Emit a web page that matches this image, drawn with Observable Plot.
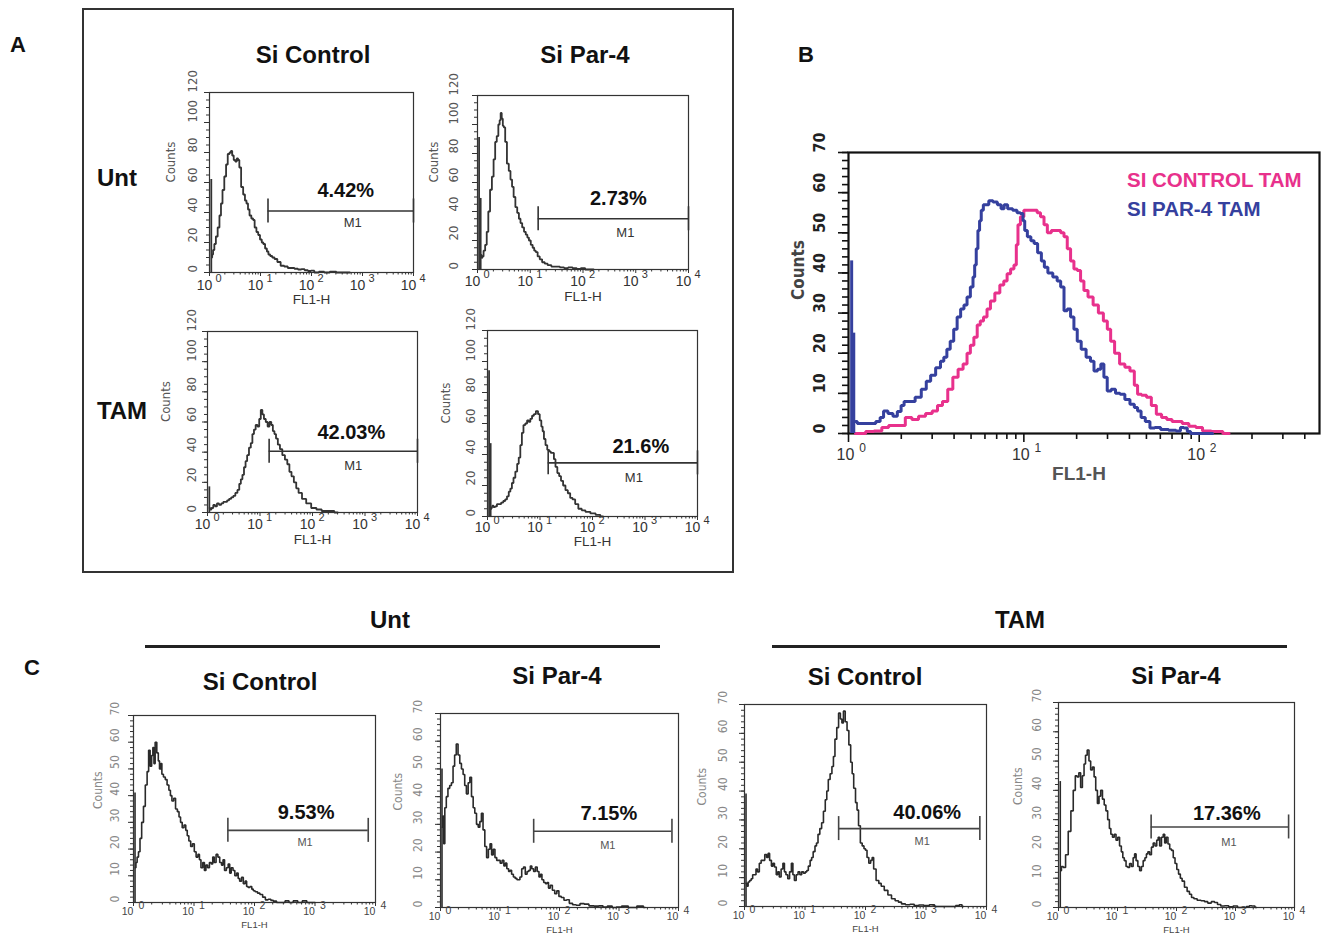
<!DOCTYPE html>
<html><head><meta charset="utf-8">
<script src="https://cdn.jsdelivr.net/npm/d3@7"></script>
<script src="https://cdn.jsdelivr.net/npm/@observablehq/plot@0.6"></script>
<style>
html,body{margin:0;padding:0;background:#fff;overflow:hidden;}
body{width:1321px;height:946px;position:relative;font-family:"Liberation Sans",Arial,sans-serif;}
.t{position:absolute;transform:translate(-50%,-50%);white-space:nowrap;font-weight:bold;color:#111;line-height:1;}
.l{position:absolute;transform:translate(0,-50%);white-space:nowrap;font-weight:bold;line-height:1;}
.p{position:absolute;}
.p svg{max-width:none;overflow:visible;}
</style></head><body>
<script>
// ---------- tick labels ----------
const decades = [1, 10, 100, 1000, 10000];
const exponents = ["0", "1", "2", "3", "4"];
const decadesB = [1, 10, 100];
const exponentsB = ["0", "1", "2"];
const countTicksA = [0, 20, 40, 60, 80, 100, 120];
const countTicksBC = [0, 10, 20, 30, 40, 50, 60, 70];

// ---------- Panel A: [log10(FL1-H), counts] ----------
const aUntCtrl = [[0.045,10],[0.06,12],[0.08,15],[0.11,19],[0.14,24],[0.18,30],[0.21,38],[0.24,46],[0.27,55],[0.31,64],[0.34,72],[0.375,79],[0.41,80],[0.43,81],[0.46,78],[0.49,75],[0.52,74],[0.55,76],[0.57,75],[0.6,70],[0.64,57],[0.68,52],[0.71,48],[0.74,46],[0.77,42],[0.8,38],[0.84,36],[0.87,35],[0.9,30],[0.94,27],[0.97,25],[1.01,22],[1.04,20],[1.07,19],[1.11,16],[1.14,14],[1.17,12],[1.21,11],[1.25,10],[1.3,9],[1.36,7],[1.43,4.5],[1.5,4],[1.57,3],[1.63,3],[1.7,2.5],[1.77,2],[1.83,2.2],[1.9,1.5],[1.96,1],[2.02,1.2],[2.09,0],[2.2,0.5],[2.3,0],[2.42,0.6],[2.55,0],[2.75,0]];
const aUntPar4 = [[0.07,10],[0.085,8],[0.1,9],[0.13,13],[0.16,17],[0.19,26],[0.22,40],[0.256,55],[0.29,64],[0.32,76],[0.35,88],[0.38,92],[0.41,100],[0.43,103],[0.448,108],[0.47,104],[0.49,99],[0.51,98],[0.54,88],[0.576,73],[0.61,68],[0.64,62],[0.67,57],[0.7,50],[0.736,43],[0.77,39],[0.8,35],[0.83,32],[0.864,29],[0.9,26],[0.93,24],[0.96,22],[0.99,20],[1.03,17],[1.06,15],[1.09,13],[1.12,12],[1.16,9],[1.2,7],[1.25,5],[1.3,4],[1.36,3],[1.44,2],[1.52,2],[1.6,1.5],[1.68,1],[1.76,1.5],[1.84,1],[1.92,0.5],[2.0,1],[2.08,0],[2.2,0]];
const aTamCtrl = [[0.04,3],[0.06,2],[0.09,3],[0.13,5],[0.16,4],[0.2,6],[0.24,5],[0.28,6],[0.32,7],[0.355,7],[0.39,8],[0.43,9],[0.47,10],[0.51,11],[0.55,13],[0.59,15],[0.62,19],[0.65,22],[0.68,25],[0.71,30],[0.74,34],[0.77,38],[0.81,43],[0.84,46],[0.87,52],[0.9,55],[0.935,58],[0.97,57],[1.0,62],[1.03,68],[1.06,65],[1.09,62],[1.13,60],[1.16,57],[1.2,60],[1.23,58],[1.26,54],[1.29,52],[1.32,49],[1.36,45],[1.4,42],[1.45,38],[1.5,35],[1.54,32],[1.58,27],[1.62,24],[1.67,20],[1.71,16],[1.76,13],[1.84,9],[1.92,6],[2.03,3],[2.12,2],[2.23,1],[2.35,1],[2.48,0]];
const aTamPar4 = [[0.07,5],[0.085,6],[0.1,7],[0.13,6],[0.16,6.5],[0.2,8],[0.24,8],[0.28,9],[0.32,10],[0.353,11],[0.39,13],[0.42,16],[0.45,18],[0.48,21.6],[0.51,25],[0.55,29],[0.58,34],[0.61,38],[0.64,46],[0.67,54],[0.7,59],[0.738,60],[0.77,62],[0.8,61],[0.83,63],[0.867,65],[0.9,66],[0.944,68],[0.98,66],[1.01,62],[1.04,58],[1.06,55],[1.09,50],[1.12,46],[1.156,43],[1.19,42],[1.22,41],[1.25,41],[1.28,37],[1.31,32],[1.35,28],[1.38,26],[1.42,23],[1.46,20],[1.51,17],[1.55,15],[1.6,12],[1.64,11],[1.7,8],[1.76,5],[1.83,4],[1.9,3],[2.02,2],[2.1,1],[2.2,0]];
const aSpikes = [[[0.035,62]], [[0.03,91],[0.06,49]], [[0.035,17]], [[0.03,94],[0.06,47]]];
const aGates = [[1.147,4,41],[1.15,4,35],[1.174,4,40.6],[1.156,4,34.6]]; // [from, to, counts]
const aPercents = ["4.42%", "2.73%", "42.03%", "21.6%"];

// ---------- Panel B ----------
const bDecades = [0.04,0.06,0.1,0.14,0.171,0.19,0.21,0.24,0.267,0.29,0.31,0.324,0.36,0.4,0.43,0.457,0.48,0.514,0.535,0.552,0.57,0.59,0.61,0.629,0.65,0.667,0.685,0.705,0.715,0.724,0.733,0.743,0.752,0.762,0.776,0.79,0.81,0.838,0.86,0.88,0.895,0.92,0.952,0.97,0.99,1.0,1.01,1.03,1.05,1.067,1.09,1.11,1.124,1.15,1.18,1.2,1.22,1.238,1.257,1.276,1.295,1.314,1.34,1.37,1.39,1.41,1.43,1.448,1.465,1.486,1.51,1.535,1.562,1.59,1.62,1.64,1.657,1.68,1.705,1.733,1.76,1.8,1.85,1.886,1.9,1.924,1.94,1.962,2.0,2.076];
const bPar4Counts = [3,2.5,2.5,2.5,3,4,5.6,5,4.3,5.5,7,8,8,9,11,13,14.5,16.4,18,19,21,23,26,29,31,32,34,36.5,39,42,46,50.6,53,55.6,57,57,58,57.7,57,56,57,56,55.6,55,54.8,53,50.6,49,48,47.3,45,43,41.4,40,39,38,36.5,30.6,31,29,26,23,21,19,18,15.6,16,17.3,14,10.6,11,10,9.8,8.5,7.3,6.5,5.6,4,3,1.4,1.5,1,0.8,0.6,1.5,1.4,0.5,0,0,0];
const bCtrlDecades = [0.04,0.076,0.12,0.17,0.21,0.248,0.28,0.305,0.343,0.38,0.419,0.46,0.495,0.52,0.552,0.58,0.61,0.64,0.667,0.685,0.705,0.725,0.743,0.76,0.78,0.8,0.819,0.85,0.876,0.895,0.914,0.935,0.952,0.962,0.971,0.99,1.01,1.04,1.067,1.085,1.105,1.125,1.143,1.17,1.2,1.22,1.238,1.257,1.276,1.295,1.314,1.333,1.352,1.38,1.41,1.44,1.467,1.485,1.505,1.53,1.562,1.59,1.62,1.64,1.657,1.685,1.714,1.74,1.771,1.8,1.83,1.86,1.886,1.92,1.962,2.0,2.038,2.1,2.17];
const bCtrlCounts = [0,0,0.5,0.6,1.5,2,2,2,4,3.5,4.3,5,5.6,7,8,11,14,16,17.3,20,22,24,27,28,29,31,33,35,37,38,39.8,41,42,47,52,54,55.6,55.6,55.6,55,54,52,50,50.6,50.6,50,49,46,43,41,40.6,38,35.6,34,32,30,28,26,23,20,17.3,16.5,15.6,12,9.8,9.5,9,7,4.8,4,3.5,3,3,2.5,1.8,1.5,0.6,0.5,0];
const bPar4Spikes = [[0.018,43],[0.03,25]];
const bLegend = ["SI CONTROL TAM", "SI PAR-4 TAM"];

// ---------- Panel C ----------
const cUntCtrl = [[0.03,13],[0.05,15],[0.07,17],[0.095,19],[0.12,24],[0.15,30],[0.18,36],[0.21,44],[0.24,49],[0.26,57],[0.29,51],[0.31,55],[0.33,58],[0.346,52],[0.37,60],[0.4,56],[0.42,53],[0.44,50],[0.458,52],[0.48,48],[0.51,47],[0.54,46],[0.57,44],[0.6,42],[0.62,40],[0.65,38],[0.68,39],[0.71,35],[0.74,34],[0.765,32],[0.79,30],[0.82,28],[0.85,29],[0.877,27],[0.9,25],[0.93,23],[0.96,21],[0.99,22],[1.02,19],[1.05,17],[1.08,18],[1.1,16],[1.13,13],[1.16,15],[1.184,12],[1.21,14],[1.24,13],[1.27,15],[1.3,14.4],[1.32,17],[1.35,15],[1.38,18],[1.41,17],[1.44,15],[1.47,14],[1.49,16],[1.52,12],[1.55,13],[1.58,14.4],[1.6,11],[1.63,13],[1.66,12],[1.69,10],[1.72,11],[1.74,9],[1.77,8],[1.8,9.4],[1.83,7],[1.86,8],[1.88,6],[1.91,5.6],[1.94,6],[1.97,5],[1.99,4.4],[2.03,4],[2.07,3.5],[2.11,3],[2.16,2],[2.2,1],[2.25,1.2],[2.29,0.8],[2.33,0.5],[2.4,0],[2.47,0],[2.54,0.6],[2.6,0],[2.68,0.6],[2.75,0],[2.83,0.6],[2.9,0],[3.0,0]];
const cUntPar4 = [[0.03,29],[0.045,33],[0.06,23],[0.085,36],[0.11,40],[0.14,43],[0.17,44],[0.197,45],[0.225,51],[0.25,55],[0.28,59],[0.31,55],[0.338,52],[0.366,50],[0.394,48],[0.42,44],[0.45,41],[0.48,45],[0.507,47],[0.535,40],[0.563,36],[0.59,34],[0.62,30],[0.648,29],[0.675,31],[0.7,34],[0.73,28],[0.76,22],[0.79,18],[0.82,21],[0.845,23],[0.873,19],[0.9,21],[0.93,18],[0.96,17],[0.986,17],[1.02,16],[1.05,17],[1.08,15],[1.1,16],[1.13,14],[1.16,13],[1.18,13.4],[1.21,12],[1.24,11],[1.27,10.5],[1.3,10],[1.32,10],[1.35,11],[1.38,14],[1.41,14.6],[1.44,12],[1.47,13],[1.5,13.4],[1.52,15],[1.55,14],[1.58,13],[1.61,14.6],[1.64,13],[1.67,11],[1.69,12],[1.72,10],[1.75,9],[1.78,8.6],[1.8,9],[1.83,7],[1.86,8],[1.9,6.2],[1.94,5],[1.97,6],[2.01,4],[2.05,3.6],[2.1,2.6],[2.14,2.8],[2.19,1.5],[2.25,1],[2.31,0.8],[2.38,1.4],[2.45,1.2],[2.54,0.6],[2.62,0.5],[2.7,0.6],[2.76,0.2],[2.85,0.5],[2.92,0],[2.99,0.2],[3.1,0.5],[3.21,0],[3.28,0],[3.32,0.5],[3.38,0.5],[3.44,0]];
const cTamCtrl = [[0.03,8],[0.05,7],[0.07,8.5],[0.1,9],[0.12,9.6],[0.15,11],[0.18,11],[0.2,13],[0.23,12],[0.26,15],[0.29,16],[0.32,16],[0.35,18],[0.38,17],[0.4,18.4],[0.43,16],[0.46,14],[0.48,15],[0.51,13.7],[0.54,11],[0.56,12],[0.59,10.2],[0.62,13],[0.65,15],[0.67,12],[0.7,11],[0.73,9.6],[0.76,12],[0.79,15],[0.81,11],[0.84,9],[0.87,11],[0.9,12],[0.93,11],[0.96,12],[0.99,11.5],[1.02,12],[1.04,12.5],[1.07,14],[1.1,16],[1.12,17],[1.15,19],[1.18,21],[1.2,22],[1.23,25],[1.26,27],[1.29,29],[1.32,33],[1.35,37],[1.37,40],[1.4,44],[1.43,46],[1.46,48.5],[1.48,52],[1.51,58],[1.54,62],[1.57,67],[1.6,65],[1.62,63.6],[1.65,67.7],[1.68,64],[1.71,61],[1.74,56],[1.77,50],[1.79,46],[1.82,41],[1.85,36],[1.87,33.4],[1.9,28],[1.93,22],[1.96,21],[1.99,20],[2.01,19.5],[2.04,17],[2.07,15],[2.1,16],[2.12,17],[2.15,13],[2.2,9],[2.24,8],[2.28,7],[2.34,5.6],[2.4,4],[2.46,2.7],[2.52,2],[2.57,1.5],[2.62,0.9],[2.7,0.6],[2.77,0.8],[2.84,0.3],[2.92,0.5],[3.01,0.3],[3.1,0.6],[3.18,0],[3.3,0],[3.45,0],[3.53,0.3],[3.57,0.6],[3.62,0]];
const cTamPar4 = [[0.04,12.6],[0.06,14],[0.1,13.7],[0.14,18],[0.19,26],[0.23,33],[0.27,40],[0.3,45],[0.33,44.6],[0.36,46],[0.39,41],[0.42,45],[0.446,49],[0.47,52],[0.503,53.8],[0.53,50],[0.56,47],[0.59,48],[0.617,44.6],[0.645,40],[0.674,35.5],[0.7,38],[0.73,40],[0.76,37],[0.79,35],[0.817,33],[0.85,30],[0.875,27],[0.9,25],[0.93,24],[0.96,25],[0.99,23],[1.02,24],[1.05,21],[1.08,19],[1.1,17],[1.13,16],[1.16,14],[1.19,13.7],[1.22,15],[1.25,14],[1.28,17],[1.3,18.3],[1.33,16],[1.36,14],[1.39,12.6],[1.42,14],[1.45,16],[1.48,17],[1.5,18.3],[1.53,19],[1.56,18],[1.59,20.6],[1.62,22],[1.65,21],[1.68,23],[1.7,24],[1.73,21],[1.76,24],[1.79,25],[1.81,22],[1.84,24],[1.87,21.7],[1.9,20],[1.93,19.5],[1.96,17],[1.99,15],[2.02,13],[2.05,11.4],[2.08,10],[2.11,9],[2.16,6.9],[2.2,5.5],[2.24,4.5],[2.27,3.4],[2.32,3],[2.38,2.5],[2.45,2.3],[2.5,2],[2.56,1.5],[2.62,2],[2.67,1.7],[2.72,1],[2.78,0.5],[2.85,0.6],[2.92,0.2],[3.0,0.5],[3.07,0],[3.15,0],[3.22,0.3],[3.25,0.6],[3.3,0.5],[3.36,0]];
const cSpikes = [[[0.025,41]], [[0.025,50]], [[0.025,39]], [[0.03,43]]];
const cGates = [[1.56,3.88,27],[1.566,3.89,27.5],[1.556,3.89,27],[1.57,3.9,27.5]];
const cPercents = ["9.53%", "7.15%", "40.06%", "17.36%"];

// ---------- helpers ----------
const NARROW = "'Liberation Sans Narrow','DejaVu Sans Condensed','Liberation Sans',sans-serif";
const minorLog = d3.range(0, 4).flatMap(k => d3.range(2, 10).map(m => m * 10 ** k));

function addText(cls, txt, x, y, size, color) {
  const d = document.createElement("div");
  d.className = cls; d.textContent = txt;
  d.style.left = x + "px"; d.style.top = y + "px";
  d.style.fontSize = size + "px";
  if (color) d.style.color = color;
  document.body.appendChild(d);
  return d;
}
function addBox(x, y, w, h, css) {
  const d = document.createElement("div");
  d.style.position = "absolute";
  d.style.left = x + "px"; d.style.top = y + "px";
  d.style.width = w + "px"; d.style.height = h + "px";
  d.style.boxSizing = "border-box";
  Object.assign(d.style, css);
  document.body.appendChild(d);
}

function histogram(p) {
  const W = p.fr - p.fl + p.ml + p.mr, H = p.fb - p.ft + p.mt + p.mb;
  const X = d => 10 ** d[0], Y = d => d[1];
  const marks = [];
  marks.push(Plot.frame({stroke: p.frameColor, strokeWidth: p.frameWidth}));
  marks.push(Plot.axisX({ticks: p.xMajor, tickSize: p.tickMajor, tickFormat: () => "", stroke: p.axisColor, strokeWidth: p.tickWidth, label: null}));
  marks.push(Plot.axisX({ticks: p.xMinor.filter(v => v <= p.xmax), tickSize: p.tickMinor, tickFormat: () => "", stroke: p.axisColor, strokeWidth: p.tickWidth, label: null}));
  marks.push(Plot.axisY({ticks: p.yMajor, tickSize: p.tickMajorY, tickFormat: () => "", stroke: p.axisColor, strokeWidth: p.tickWidth, label: null}));
  marks.push(Plot.axisY({ticks: p.yMinor, tickSize: p.tickMinorY, tickFormat: () => "", stroke: p.axisColor, strokeWidth: p.tickWidth, label: null}));
  // x tick labels: "10" with raised exponent
  marks.push(Plot.text(p.xMajor, {x: d => d, frameAnchor: "bottom", text: () => "10", dx: p.baseDx, dy: p.baseDy, fontSize: p.baseSize, fill: p.labelColor, fontWeight: p.labelWeight}));
  marks.push(Plot.text(p.xMajor, {x: d => d, frameAnchor: "bottom", text: (d, i) => p.expLabels[i], dx: p.expDx, dy: p.baseDy - p.expRaise, fontSize: p.expSize, fill: p.labelColor, fontWeight: p.labelWeight}));
  // y tick labels rotated
  marks.push(Plot.text(p.yMajor, {y: d => d, frameAnchor: "left", text: d => String(d), rotate: -90, dx: p.yLabDx, fontSize: p.yLabSize, fill: p.yLabColor, fontFamily: NARROW, fontWeight: p.yLabWeight}));
  // axis titles
  marks.push(Plot.text(["Counts"], {frameAnchor: "left", text: d => d, rotate: -90, dx: p.countsDx, dy: p.countsDy || 0, fontSize: p.countsSize, fill: p.countsColor, fontFamily: NARROW, fontWeight: p.countsWeight}));
  marks.push(Plot.text(["FL1-H"], {frameAnchor: "bottom", text: d => d, dx: p.flDx, dy: p.flDy, fontSize: p.flSize, fill: p.flColor, fontWeight: p.flWeight}));
  // series
  for (const s of p.series) {
    if (s.spikes) marks.push(Plot.ruleX(s.spikes, {x: X, y1: 0, y2: Y, stroke: s.color, strokeWidth: s.width}));
    marks.push(Plot.line(s.data, {x: X, y: Y, curve: "step", stroke: s.color, strokeWidth: s.width, strokeLinejoin: "miter"}));
  }
  // M1 gate
  if (p.gate) {
    const g = p.gate;
    const mid = gg => 10 ** ((gg[0] + gg[1]) / 2);
    marks.push(Plot.ruleY([g], {x1: gg => 10 ** gg[0], x2: gg => 10 ** gg[1], y: gg => gg[2], stroke: p.gateColor, strokeWidth: p.gateWidth}));
    marks.push(Plot.ruleX([g[0], g[1]], {x: d => 10 ** d, y1: () => g[2], y2: () => g[2], insetTop: -p.capHalf, insetBottom: -p.capHalf, stroke: p.gateColor, strokeWidth: p.gateWidth}));
    marks.push(Plot.text([g], {x: mid, y: gg => gg[2], text: () => p.pct, dx: p.pctDx, dy: p.pctDy, fontSize: p.pctSize, fontWeight: "bold", fill: "#111"}));
    marks.push(Plot.text([g], {x: mid, y: gg => gg[2], text: () => "M1", dx: p.m1Dx, dy: p.m1Dy, fontSize: p.m1Size, fill: p.m1Color}));
  }
  const svg = Plot.plot({
    width: W, height: H,
    marginLeft: p.ml, marginRight: p.mr, marginTop: p.mt, marginBottom: p.mb,
    x: {type: "log", domain: [1, p.xmax]},
    y: {domain: [0, p.ymax]},
    style: {background: "transparent", fontFamily: "'Liberation Sans',Arial,sans-serif", overflow: "visible"},
    marks
  });
  const d = document.createElement("div");
  d.className = "p";
  d.style.left = (p.fl - p.ml) + "px";
  d.style.top = (p.ft - p.mt) + "px";
  d.appendChild(svg);
  document.body.appendChild(d);
}

// ---------- styles ----------
const styleA = {ml: 60, mr: 14, mt: 12, mb: 50, ymax: 120, yMajor: countTicksA, yMinor: d3.range(0, 121, 5),
  xmax: 1e4, xMajor: decades, xMinor: minorLog, expLabels: exponents,
  tickMajor: 4, tickMinor: 2.5, tickMajorY: 5, tickMinorY: 3, axisColor: "#333", tickWidth: 1,
  frameColor: "#333", frameWidth: 1.2, baseDx: -5, baseSize: 14, expDx: 9, expSize: 11, expRaise: 8,
  labelColor: "#333", labelWeight: "normal", yLabSize: 13, yLabColor: "#555", yLabWeight: "normal",
  countsSize: 13, countsColor: "#555", countsWeight: "normal", flSize: 13.5, flColor: "#333", flWeight: "normal", flDx: 0,
  pctSize: 20, m1Size: 13, m1Color: "#333", gateColor: "#333", gateWidth: 1.6, capHalf: 12};
const styleC = {ml: 50, mr: 14, mt: 12, mb: 42, ymax: 70, yMajor: countTicksBC, yMinor: d3.range(0, 71, 2),
  xmax: 1e4, xMajor: decades, xMinor: minorLog, expLabels: exponents,
  tickMajor: 4, tickMinor: 2.5, tickMajorY: 5, tickMinorY: 3, axisColor: "#333", tickWidth: 1,
  frameColor: "#333", frameWidth: 1.2, baseDx: -6, baseSize: 10.5, expDx: 8, expSize: 10.5, expRaise: 6, baseDy: 12,
  labelColor: "#444", labelWeight: "normal", yLabSize: 12, yLabColor: "#888", yLabWeight: "normal",
  countsSize: 12, countsColor: "#888", countsWeight: "normal", flSize: 9.5, flColor: "#444", flWeight: "normal", flDx: 0, flDy: 25,
  pctSize: 20, m1Size: 11, m1Color: "#555", gateColor: "#444", gateWidth: 1.6, capHalf: 12};

const lineA = {color: "#333", width: 1.8};
const lineC = {color: "#2a2a2a", width: 1.6};

const panels = [
  {...styleA, fl: 209, fr: 413, ft: 92, fb: 272, baseDy: 17, flDy: 31, countsDx: -39, yLabDx: -17,
    series: [{...lineA, data: aUntCtrl, spikes: aSpikes[0]}], gate: aGates[0], pct: aPercents[0], pctDx: 5, pctDy: -20, m1Dx: 12, m1Dy: 12},
  {...styleA, fl: 477, fr: 688, ft: 95, fb: 269, baseDy: 16, flDy: 31, countsDx: -44, yLabDx: -24,
    series: [{...lineA, data: aUntPar4, spikes: aSpikes[1]}], gate: aGates[1], pct: aPercents[1], pctDx: 5, pctDy: -20, m1Dx: 12, m1Dy: 14},
  {...styleA, fl: 207, fr: 417, ft: 331, fb: 512, baseDy: 16, flDy: 31, countsDx: -42, yLabDx: -16,
    series: [{...lineA, data: aTamCtrl, spikes: aSpikes[2]}], gate: aGates[2], pct: aPercents[2], pctDx: 8, pctDy: -19, m1Dx: 10, m1Dy: 15},
  {...styleA, fl: 487, fr: 697, ft: 330, fb: 516, baseDy: 15, flDy: 29.5, countsDx: -42, yLabDx: -17,
    series: [{...lineA, data: aTamPar4, spikes: aSpikes[3]}], gate: aGates[3], pct: aPercents[3], pctDx: 18, pctDy: -16, m1Dx: 11, m1Dy: 15},
  {...styleC, fl: 133, fr: 375, ft: 715, fb: 902, countsDx: -35, yLabDx: -18,
    series: [{...lineC, data: cUntCtrl, spikes: cSpikes[0]}], gate: cGates[0], pct: cPercents[0], pctDx: 8, pctDy: -18, m1Dx: 7, m1Dy: 12},
  {...styleC, fl: 440, fr: 678, ft: 713, fb: 907, countsDx: -42, yLabDx: -22,
    series: [{...lineC, data: cUntPar4, spikes: cSpikes[1]}], gate: cGates[1], pct: cPercents[1], pctDx: 6, pctDy: -18, m1Dx: 5, m1Dy: 14},
  {...styleC, fl: 744, fr: 986, ft: 704, fb: 906, countsDx: -42, yLabDx: -21,
    series: [{...lineC, data: cTamCtrl, spikes: cSpikes[2]}], gate: cGates[2], pct: cPercents[2], pctDx: 18, pctDy: -16, m1Dx: 13, m1Dy: 13},
  {...styleC, fl: 1058, fr: 1294, ft: 702, fb: 907, countsDx: -40, yLabDx: -21,
    series: [{...lineC, data: cTamPar4, spikes: cSpikes[3]}], gate: cGates[3], pct: cPercents[3], pctDx: 7, pctDy: -13, m1Dx: 9, m1Dy: 16}
];

// Panel B
const bPink = "#e8318c", bBlue = "#35409e";
const bPar4 = d3.zip(bDecades, bPar4Counts);
const bCtrl = d3.zip(bCtrlDecades, bCtrlCounts);
panels.push({
  ml: 70, mr: 1, mt: 10, mb: 60, fl: 848, fr: 1319, ft: 152, fb: 433,
  ymax: 70, yMajor: countTicksBC, yMinor: d3.range(0, 71, 2),
  xmax: 10 ** 2.686, xMajor: decadesB, xMinor: minorLog, expLabels: exponentsB,
  tickMajor: 9, tickMinor: 6, tickMajorY: 10, tickMinorY: 6, axisColor: "#111", tickWidth: 1.6,
  frameColor: "#111", frameWidth: 2.2, baseDx: -3, baseDy: 26, baseSize: 16, expDx: 14, expSize: 12, expRaise: 8,
  labelColor: "#333", labelWeight: "normal", yLabDx: -29, yLabSize: 16, yLabColor: "#222", yLabWeight: "bold",
  countsDx: -50, countsDy: 7, countsSize: 17, countsColor: "#444", countsWeight: "bold",
  flDx: -5, flDy: 46, flSize: 19, flColor: "#555", flWeight: "bold",
  series: [
    {data: bCtrl, color: bPink, width: 3},
    {data: bPar4, spikes: bPar4Spikes, color: bBlue, width: 3}
  ]
});

// ---------- layout text ----------
addBox(82, 8, 652, 565, {border: "2px solid #333"});
addText("t", "A", 18, 45, 22);
addText("t", "B", 806, 55, 22);
addText("t", "C", 32, 668, 22);
addText("t", "Si Control", 313, 55, 24);
addText("t", "Si Par-4", 585, 55, 24);
addText("t", "Unt", 117, 178, 24);
addText("t", "TAM", 122, 411, 24);

for (const p of panels) histogram(p);

addText("l", bLegend[0], 1127, 180, 20.5, bPink);
addText("l", bLegend[1], 1127, 209, 20.5, bBlue);

addText("t", "Unt", 390, 620, 24);
addText("t", "TAM", 1020, 620, 24);
addBox(145, 645, 515, 3, {background: "#222"});
addBox(772, 645, 515, 3, {background: "#222"});
addText("t", "Si Control", 260, 682, 24);
addText("t", "Si Par-4", 557, 676, 24);
addText("t", "Si Control", 865, 677, 24);
addText("t", "Si Par-4", 1176, 676, 24);
</script>
</body></html>
